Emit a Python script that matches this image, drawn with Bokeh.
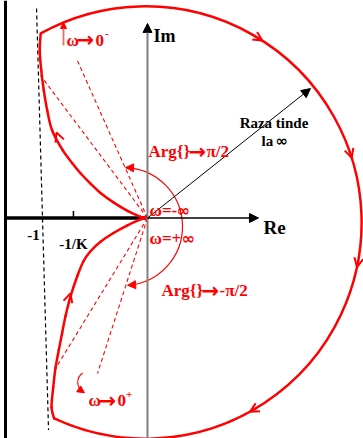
import math
from bokeh.plotting import figure
from bokeh.models import Arrow, NormalHead, OpenHead, Span, Label
from bokeh.embed import file_html
from bokeh.resources import INLINE

W, H = 363, 438
UNIT = 107.0                 # pixels per unit, same on both axes
ORIGIN_PX = (147.0, 217.5)   # where (0, 0) sits on the canvas

# ---- data -------------------------------------------------------------
# branch for omega going from -inf to 0-  (upper half plane)
upper_re = [0.0, -0.033, -0.065, -0.187, -0.318, -0.439, -0.533, -0.626, -0.701,
            -0.794, -0.891, -0.937, -0.969, -0.993, -1.007]
upper_im = [0.0, 0.003, 0.011, 0.067, 0.146, 0.234, 0.322, 0.418, 0.509,
            0.636, 0.818, 1.005, 1.192, 1.379, 1.565]
# branch for omega going from 0+ to +inf  (lower half plane)
lower_re = [0.0, -0.033, -0.065, -0.187, -0.318, -0.439, -0.533, -0.598, -0.654,
            -0.720, -0.766, -0.797, -0.829, -0.860, -0.881, -0.897]
lower_im = [0.0, -0.004, -0.013, -0.068, -0.140, -0.222, -0.311, -0.404, -0.537,
            -0.734, -0.916, -1.070, -1.234, -1.402, -1.584, -1.768]

# closing arc "at infinity"
inf_center = (-0.019, -0.042)
inf_radius = 2.02
inf_start_deg = 119.0
inf_end_deg = -115.0
inf_arrow_deg = [57.3, 17.4, -11.9, -61.1]

# phase-angle rays from the origin
ray_re = [-1.000, -0.664, -0.860, -0.467]
ray_im = [1.332, 1.491, -1.407, -1.453]

# asymptote near Re = -1
asym_re = [-1.037, -0.925]
asym_im = [1.958, -1.981]

critical_point = -1.0
inv_gain_point = -0.692

# small arc describing Arg{} -> +/- pi/2
arg_center = (-0.224, -0.079)
arg_radius = 0.551
arg_start_deg = 88.0
arg_end_deg = -86.0

# radius arrow ("Raza tinde la inf")
radius_tip = (1.523, 1.210)

# ---- figure -----------------------------------------------------------
x_lo = -ORIGIN_PX[0] / UNIT
x_hi = (W - ORIGIN_PX[0]) / UNIT
y_hi = ORIGIN_PX[1] / UNIT
y_lo = -(H - ORIGIN_PX[1]) / UNIT

p = figure(width=W, height=H, x_range=(x_lo, x_hi), y_range=(y_lo, y_hi),
           output_backend="svg", toolbar_location=None,
           x_axis_location=None, y_axis_location=None, min_border=0)
p.grid.visible = False
p.outline_line_color = None
p.background_fill_color = "white"

RED = "#ff0000"
SERIF = "Liberation Serif"
SYM = "DejaVu Sans"


def smooth(xs, ys, **kw):
    """Draw a smooth curve through the given points as cubic Bezier pieces."""
    n = len(xs)
    X0, Y0, X1, Y1, CX0, CY0, CX1, CY1 = ([] for _ in range(8))
    for i in range(n - 1):
        a, b = max(i - 1, 0), min(i + 2, n - 1)
        X0.append(xs[i]); Y0.append(ys[i]); X1.append(xs[i + 1]); Y1.append(ys[i + 1])
        CX0.append(xs[i] + (xs[i + 1] - xs[a]) / 6); CY0.append(ys[i] + (ys[i + 1] - ys[a]) / 6)
        CX1.append(xs[i + 1] - (xs[b] - xs[i]) / 6); CY1.append(ys[i + 1] - (ys[b] - ys[i]) / 6)
    p.bezier(x0=X0, y0=Y0, x1=X1, y1=Y1, cx0=CX0, cy0=CY0, cx1=CX1, cy1=CY1,
             line_cap="round", **kw)


# left frame edge
p.add_layout(Span(location=x_lo + 5 / UNIT, dimension="height",
                  line_color="black", line_width=3))

# imaginary axis (grey) with black head
p.add_layout(Arrow(x_start=0, y_start=y_lo, x_end=0, y_end=1.818,
                   line_color="#808080", line_width=2,
                   end=NormalHead(size=9, fill_color="black", line_color="black")))
# negative real axis (thick)
p.line([x_lo + 6 / UNIT, 0], [0, 0], line_color="black", line_width=3.5)
# positive real axis
p.add_layout(Arrow(x_start=0, y_start=0, x_end=1.037, y_end=0,
                   line_color="black", line_width=1.3,
                   end=NormalHead(size=9, fill_color="black", line_color="black")))
# tick at -1/K
p.line([inv_gain_point, inv_gain_point], [0, 0.065], line_color="black", line_width=1.5)

# asymptote
p.line(asym_re, asym_im, line_color="black", line_width=1.2, line_dash="4 3")

# phase rays
for rx, ry in zip(ray_re, ray_im):
    p.line([0, rx], [0, ry], line_color=RED, line_width=1.1, line_dash="4 3")

# radius arrow
p.add_layout(Arrow(x_start=0, y_start=0, x_end=radius_tip[0], y_end=radius_tip[1],
                   line_color="black", line_width=1,
                   end=NormalHead(size=9, fill_color="black", line_color="black")))

# Nyquist contour
cx, cy = inf_center
a0, a1 = math.radians(inf_start_deg), math.radians(inf_end_deg)
top_corner = (cx + inf_radius * math.cos(a0), cy + inf_radius * math.sin(a0))
bot_corner = (cx + inf_radius * math.cos(a1), cy + inf_radius * math.sin(a1))
smooth(upper_re + [top_corner[0]], upper_im + [top_corner[1]], line_color=RED, line_width=2.5)
smooth(lower_re + [bot_corner[0]], lower_im + [bot_corner[1]], line_color=RED, line_width=2.5)
p.arc(x=[cx], y=[cy], radius=inf_radius, start_angle=a0, end_angle=a1,
      direction="clock", line_color=RED, line_width=2.5)


def open_arrow(x, y, dx, dy, size=9):
    n = math.hypot(dx, dy)
    dx, dy = dx / n * 0.05, dy / n * 0.05
    p.add_layout(Arrow(x_start=x - dx, y_start=y - dy, x_end=x, y_end=y,
                       line_alpha=0,
                       end=OpenHead(size=size, line_color=RED, line_width=2)))


for deg in inf_arrow_deg:
    t = math.radians(deg)
    open_arrow(cx + inf_radius * math.cos(t), cy + inf_radius * math.sin(t),
               math.sin(t), -math.cos(t))

# direction arrows on the branches (both travel upward)
i = 10
open_arrow(upper_re[i] + 0.04, upper_im[i] - 0.02,
           upper_re[i + 1] - upper_re[i - 1], upper_im[i + 1] - upper_im[i - 1])
j = 9
open_arrow(lower_re[j], lower_im[j] + 0.03,
           lower_re[j - 1] - lower_re[j + 1], lower_im[j - 1] - lower_im[j + 1])

# Arg{} arc with heads at both ends
ax, ay = arg_center
b0, b1 = math.radians(arg_start_deg), math.radians(arg_end_deg)
p.arc(x=[ax], y=[ay], radius=arg_radius, start_angle=b0, end_angle=b1,
      direction="clock", line_color=RED, line_width=1.2)
for ang, sgn in ((b0, 1), (b1, -1)):
    ex, ey = ax + arg_radius * math.cos(ang), ay + arg_radius * math.sin(ang)
    tx, ty = -math.sin(ang) * sgn, math.cos(ang) * sgn
    p.add_layout(Arrow(x_start=ex - tx * 0.04, y_start=ey - ty * 0.04, x_end=ex, y_end=ey,
                       line_alpha=0,
                       end=NormalHead(size=8, fill_color=RED, line_color=RED)))

# little marker arrow next to omega -> 0-
p.add_layout(Arrow(x_start=-0.785, y_start=1.612, x_end=-0.785, y_end=1.827,
                   line_color="#f06a6a", line_width=1.8,
                   end=NormalHead(size=6, fill_color=RED, line_color=RED)))

# curved marker arrow next to omega -> 0+
c0, c1 = math.radians(124), math.radians(236)
p.arc(x=[-0.547], y=[-1.535], radius=0.105, start_angle=c0, end_angle=c1,
      direction="anticlock", line_color=RED, line_width=1.1)
ex, ey = -0.547 + 0.105 * math.cos(c1), -1.535 + 0.105 * math.sin(c1)
tx, ty = -math.sin(c1), math.cos(c1)
p.add_layout(Arrow(x_start=ex - tx * 0.03, y_start=ey - ty * 0.03, x_end=ex + tx * 0.02,
                   y_end=ey + ty * 0.02, line_alpha=0,
                   end=NormalHead(size=7, fill_color=RED, line_color=RED)))


def label(px, py, text, color="black", size=16, align="left", font=SERIF):
    """Place bold text with its left (or centre) at canvas pixel px and baseline py."""
    p.add_layout(Label(x=(px - ORIGIN_PX[0]) / UNIT, y=(ORIGIN_PX[1] - py) / UNIT,
                       text=text, text_color=color, text_font=font,
                       text_font_style="bold", text_font_size=f"{size}px",
                       text_align=align, text_baseline="alphabetic"))


ARROW = "\u2192"
INF = "\u221e"
OMEGA = "\u03c9"

label(153, 35, "Im", size=18)
label(263, 226.5, "Re", size=19)
label(273.5, 122.7, "Raza tinde", size=15, align="center")
label(261, 140, "la", size=15)
label(275, 140, INF, size=15, font=SYM)
label(33, 234, "-1", size=15, align="center")
label(73, 243, "-1/K", size=15, align="center")

# Arg{} -> pi/2
label(148, 151, "Arg{}", color=RED, size=17)
label(188, 151, ARROW, color=RED, size=21, font=SYM)
label(206, 151, "\u03c0/2", color=RED, size=17)
# Arg{} -> -pi/2
label(161, 290, "Arg{}", color=RED, size=17)
label(201, 290, ARROW, color=RED, size=21, font=SYM)
label(219, 290, "-\u03c0/2", color=RED, size=17)
# omega = -inf / +inf
label(149, 210, OMEGA + "=-", color=RED, size=17)
label(176, 210, INF, color=RED, size=16, font=SYM)
label(149, 238, OMEGA + "=+", color=RED, size=17)
label(181, 238, INF, color=RED, size=16, font=SYM)
# omega -> 0- / 0+
label(66, 39.5, OMEGA, color=RED, size=17)
label(76, 39.5, ARROW, color=RED, size=21, font=SYM)
label(95, 39.5, "0", color=RED, size=17)
label(104.5, 33, "-", color=RED, size=11)
label(88, 400, OMEGA, color=RED, size=17)
label(98, 400, ARROW, color=RED, size=21, font=SYM)
label(117, 400, "0", color=RED, size=17)
label(125.5, 394, "+", color=RED, size=11)

open("out.html", "w").write(file_html(p, INLINE))
